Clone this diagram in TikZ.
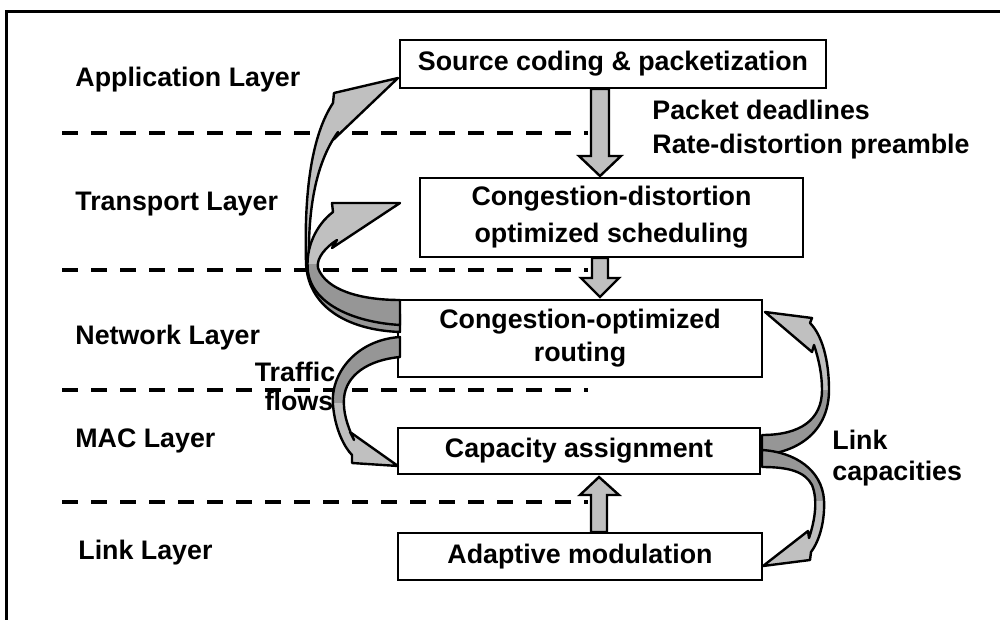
\documentclass[tikz,border=0pt]{standalone}
\usepackage{fontspec}
\setmainfont{Liberation Sans}
\definecolor{lightg}{HTML}{C0C0C0}
\definecolor{darkg}{HTML}{969696}
\newcommand\ribbon[2]{%
  \fill[lightg] #1;
  \begin{scope}\clip #2; \fill[darkg] #1;\end{scope}
  \draw[rib] #1;}
\begin{document}
\begin{tikzpicture}[x=0.5pt,y=-0.5pt,
  lbl/.style={font=\bfseries\fontsize{13.4}{16}\selectfont, inner sep=0pt},
  box/.style={draw, line width=1pt, fill=white, inner sep=0pt, align=center,
    font=\bfseries\fontsize{13.4}{16.5}\selectfont},
  blk/.style={draw, line width=1.2pt, fill=lightg, line join=miter},
  rib/.style={draw, line width=1.2pt, line join=round},
  layerline/.style={line width=2pt, dash pattern=on 8pt off 6.5pt}]
\useasboundingbox (0,0) rectangle (1000,620);
\draw[line width=1.5pt] (1000,12) -- (6,12) -- (6,620);

% layer separators
\draw[layerline] (62,133) -- (588,133);
\draw[layerline] (62,270) -- (588,270);
\draw[layerline] (62,390) -- (588,390);
\draw[layerline] (62,502) -- (588,502);

% layer labels
\node[lbl, anchor=base west] (app) at (75,87) {Application Layer};
\node[lbl, anchor=base west] (tra) at (75,211) {Transport Layer};
\node[lbl, anchor=base west] (net) at (75,344) {Network Layer};
\node[lbl, anchor=base west] (mac) at (75,447) {MAC Layer};
\node[lbl, anchor=base west] (lnk) at (78,559) {Link Layer};

% boxes
\node[box, minimum width=213pt, minimum height=24pt] (b1) at (613,64) {Source coding \& packetization};
\node[box, minimum width=191.5pt, minimum height=39.5pt,
  font=\bfseries\fontsize{13.4}{18.5}\selectfont] (b2) at (611.5,217.5) {Congestion-distortion\\optimized scheduling};
\node[box, minimum width=182pt, minimum height=38.5pt] (b3) at (580,338.5) {Congestion-optimized\\routing};
\node[box, minimum width=181pt, minimum height=23pt] (b4) at (579,451) {Capacity assignment};
\node[box, minimum width=182pt, minimum height=23.5pt] (b5) at (580,556.5) {Adaptive modulation};

% straight block arrows
\draw[blk] (591,89) -- (609,89) -- (609,156) -- (621,156) -- (600,176) -- (579,156) -- (591,156) -- cycle;
\draw[blk] (592,258) -- (608,258) -- (608,278) -- (619,278) -- (600,297) -- (581,278) -- (592,278) -- cycle;
\draw[blk] (591,532) -- (607,532) -- (607,495) -- (619,495) -- (599,477) -- (580,495) -- (591,495) -- cycle;

% side labels
\node[lbl, anchor=base west] (pd) at (652,120) {Packet deadlines};
\node[lbl, anchor=base west] (rd) at (652,154) {Rate-distortion preamble};
\node[lbl, anchor=base west] (lk) at (832,449) {Link};
\node[lbl, anchor=base west] (cp) at (832,480) {capacities};
\node[lbl, anchor=base] (tf) at (295,381) {Traffic};
\node[lbl, anchor=base] (fl) at (299,410) {flows};

% curved arrows, left side
\ribbon{(400,314) .. controls (350,312) and (312,295) .. (309,262) .. controls (308,215) and (314,165) .. (338,132) -- (333,140) -- (398,78) -- (334,93) -- (333,103) .. controls (312,135) and (304,190) .. (306,262) .. controls (307,305) and (345,330) .. (400,332) -- cycle}{(250,265) rectangle (420,400)}
\ribbon{(400,300) .. controls (360,300) and (326,290) .. (318,268) .. controls (316,258) and (326,247) .. (337,240) -- (332,248) -- (400,203) -- (332,203) -- (333,212) .. controls (316,225) and (305,248) .. (308,272) .. controls (312,302) and (350,322) .. (400,325) -- cycle}{(250,264) rectangle (420,400)}
\ribbon{(400,337) .. controls (355,340) and (330,375) .. (333,405) .. controls (335,430) and (345,448) .. (352,455) -- (352,463) -- (398,466) -- (350,432) -- (354,440) .. controls (347,425) and (343,412) .. (344,398) .. controls (346,375) and (368,360) .. (400,357) -- cycle}{(250,300) rectangle (420,402)}

% curved arrows, right side
\ribbon{(762,455) .. controls (800,452) and (829,430) .. (829,390) .. controls (829,360) and (822,335) .. (810,323) -- (812,318) -- (765,312) -- (812,352) -- (814,345) .. controls (819,360) and (822,375) .. (822,390) .. controls (822,420) and (800,435) .. (762,435) -- cycle}{(740,390) rectangle (860,480)}
\ribbon{(762,450) .. controls (795,452) and (822,470) .. (824,500) .. controls (825,520) and (820,540) .. (811,552) -- (810,560) -- (763,566) -- (808,531) -- (809,538) .. controls (815,520) and (818,500) .. (812,485) .. controls (805,472) and (790,467) .. (762,467) -- cycle}{(740,430) rectangle (860,500)}
\end{tikzpicture}
\end{document}
